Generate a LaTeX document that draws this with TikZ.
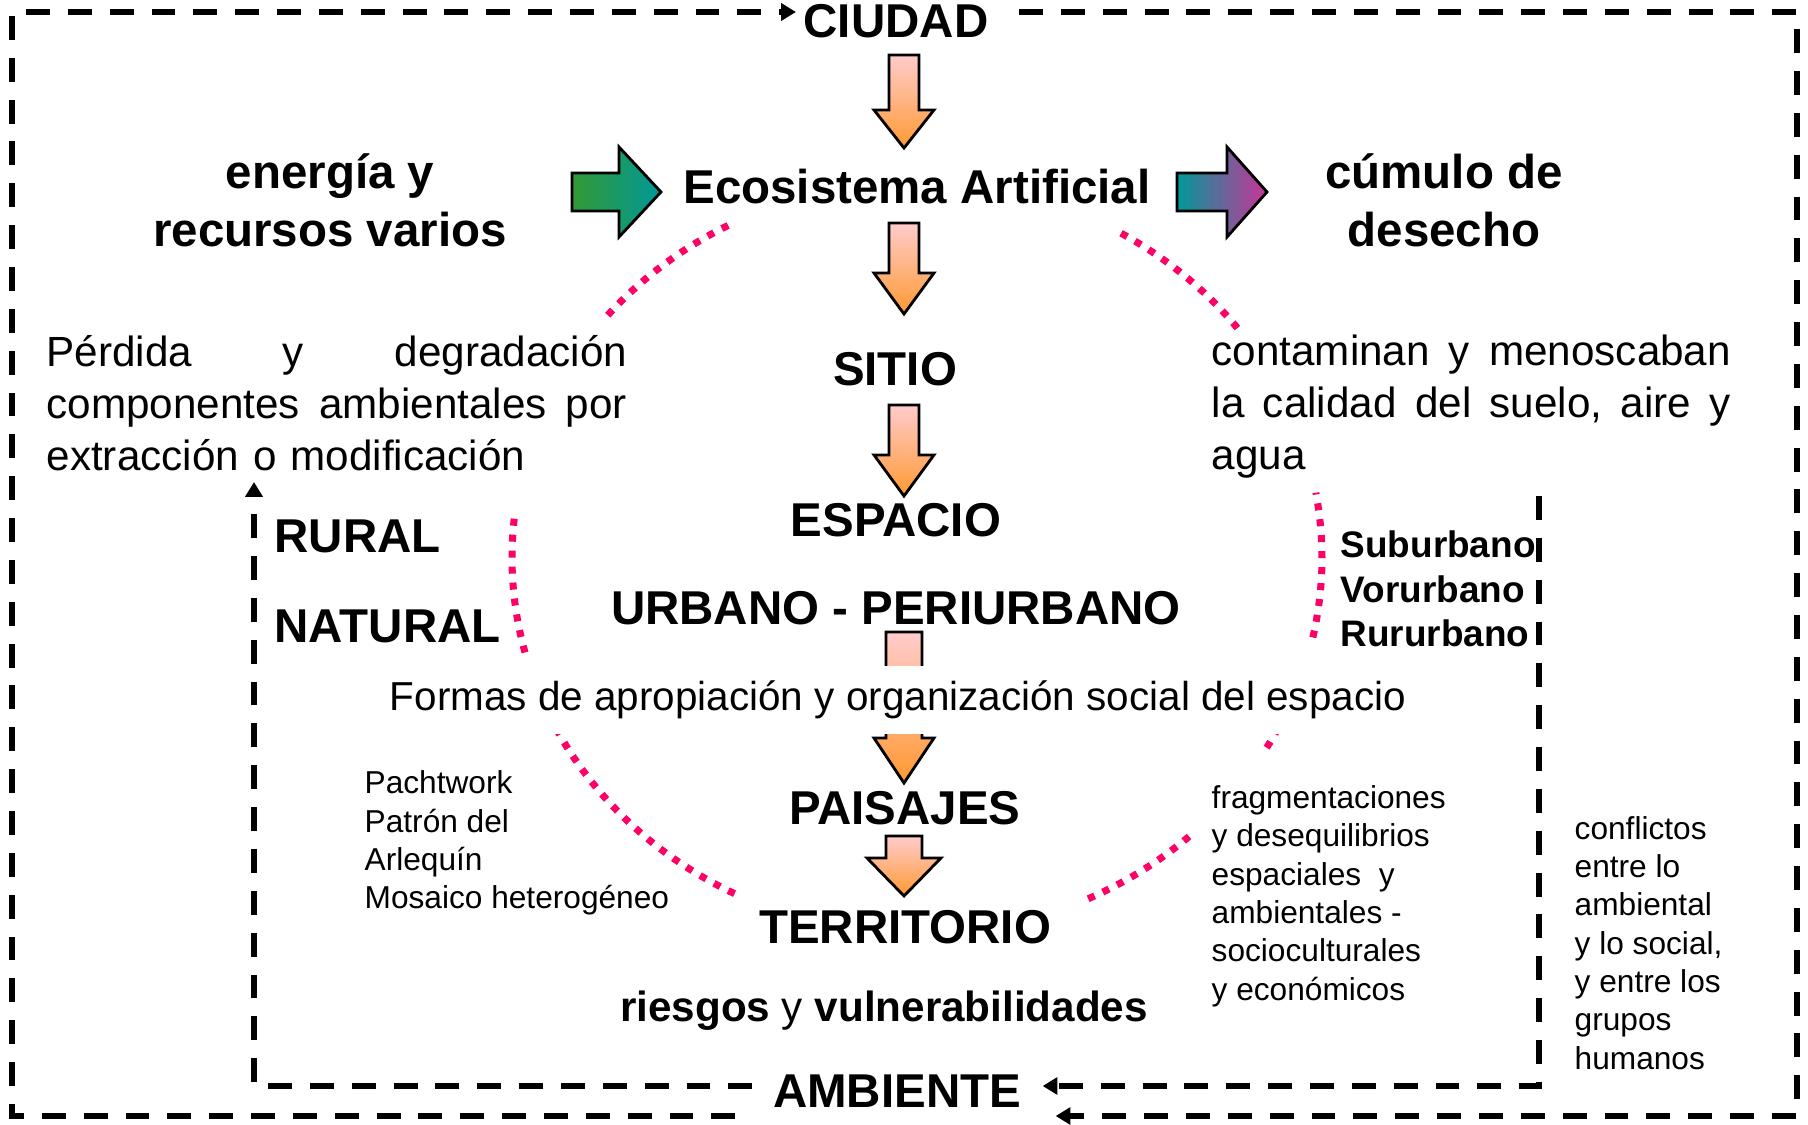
\documentclass[tikz,border=0pt]{standalone}
\usepackage{fontspec}
\setmainfont{Liberation Sans}
\usetikzlibrary{arrows.meta,calc}
\definecolor{rosa}{HTML}{FFCCCC}
\definecolor{naranja}{HTML}{FF9933}
\definecolor{verde}{HTML}{339933}
\definecolor{turquesa}{HTML}{009999}
\definecolor{morado}{HTML}{CC3399}
\definecolor{fucsia}{HTML}{FF0066}

\newcommand{\flechabajo}[6]{%
  \shadedraw[top color=rosa,bottom color=naranja,line width=.8pt]
  ({#1-#5},{-#2}) -- ({#1+#5},{-#2}) -- ({#1+#5},{-#3}) -- ({#1+#6},{-#3})
  -- (#1,{-#4}) -- ({#1-#6},{-#3}) -- ({#1-#5},{-#3}) -- cycle;}

\begin{document}
\begin{tikzpicture}[x=0.01cm,y=0.01cm,
  titulo/.style={font=\fontsize{13.5}{16.4}\selectfont\bfseries,align=center,inner sep=2pt},
  texto/.style={font=\fontsize{12}{14.8}\selectfont,inner sep=0pt,anchor=west,align=left},
  chico/.style={font=\fontsize{9}{10.9}\selectfont,inner sep=0pt,anchor=west,align=left},
  linea/.style={line width=1.7pt,dash pattern=on 6.8pt off 5.1pt},
  punto/.style={fucsia,line width=2pt,dash pattern=on 2pt off 2.55pt},
  punta/.style={-{Triangle[length=4.2pt,width=4.8pt]}}]
\useasboundingbox (0,0) rectangle (1808,-1125);

\foreach \a/\b in {117.8/141,174/195.6,207/243.7,295/312.6,329.7/335.4,347.8/370,37.7/60}
  \draw[punto] plot[domain=\a:\b,samples=25] ({917+405*cos(\x)},{-558+376*sin(\x)});

\flechabajo{904}{55}{110}{148}{15}{30}
\flechabajo{904}{223}{273}{314}{15}{30}
\flechabajo{904}{405}{455}{496}{15}{30}
\flechabajo{904}{632}{738}{783}{18}{30}
\flechabajo{904}{836}{858}{896}{18}{37}

\shadedraw[left color=verde,right color=turquesa,line width=.8pt] (572,-173) -- (619,-173) -- (619,-147)
  -- (661,-192) -- (619,-237) -- (619,-211) -- (572,-211) -- cycle;
\shadedraw[left color=turquesa,right color=morado,line width=.8pt] (1177,-173) -- (1227,-173) -- (1227,-147)
  -- (1267,-192) -- (1227,-237) -- (1227,-211) -- (1177,-211) -- cycle;

\node[titulo] (ciudad) at (896,-21) {CIUDAD};
\node[titulo] (eco) at (917,-187) {Ecosistema Artificial};
\node[titulo] (energia) at (330,-200) {energía y\\recursos varios};
\node[titulo] (cumulo) at (1444,-200) {cúmulo de\\desecho};
\node[titulo] (sitio) at (895,-369) {SITIO};
\node[titulo] (espacio) at (896,-520) {ESPACIO};
\node[titulo] (urbano) at (896,-608) {URBANO - PERIURBANO};
\node[font=\fontsize{11.5}{14}\selectfont,fill=white,inner sep=0pt,minimum height=0.68cm] (formas)
  at (898,-700) {Formas de apropiación y organización social del espacio};
\node[titulo] (paisajes) at (905,-808) {PAISAJES};
\node[titulo] (territorio) at (905,-927) {TERRITORIO};
\node[font=\fontsize{12}{14}\selectfont] (riesgos) at (884,-1011) {\textbf{riesgos} y \textbf{vulnerabilidades}};
\node[titulo] (ambiente) at (897,-1091) {AMBIENTE};
\node[titulo,anchor=west,inner sep=0pt] (rural) at (274,-536) {RURAL};
\node[titulo,anchor=west,inner sep=0pt] (natural) at (274,-626) {NATURAL};

\node[texto,text width=5.8cm] (perdida) at (46,-403)
  {Pérdida\hfill y\hfill degradación\\ componentes\hfill ambientales\hfill por\\ extracción o modificación};
\node[texto,text width=5.19cm] (contaminan) at (1211,-407)
  {contaminan\hfill y\hfill menoscaban\\ la\hfill calidad\hfill del\hfill suelo,\hfill aire\hfill y\\ agua};
\node[titulo,anchor=west,inner sep=0pt,align=left,font=\fontsize{10.5}{12.6}\selectfont\bfseries] (suburbano)
  at (1340,-589) {Suburbano\\Vorurbano\\Rururbano};
\node[chico] (pachtwork) at (364,-843) {Pachtwork\\Patrón del\\Arlequín\\Mosaico heterogéneo};
\node[chico] (fragmentaciones) at (1211,-896)
  {fragmentaciones\\y desequilibrios\\espaciales\ \ y\\ambientales -\\socioculturales\\y económicos};
\node[chico] (conflictos) at (1574,-943)
  {conflictos\\entre lo\\ambiental\\y lo social,\\y entre los\\grupos\\humanos};

\coordinate (oa) at (12,-12);
\coordinate (ob) at (1797,-12);
\coordinate (oc) at (1797,-1116);
\coordinate (od) at (12,-1116);
\coordinate (ia) at (254,-482);
\coordinate (ib) at (254,-1086);
\coordinate (ic) at (1539,-1086);
\coordinate (id) at (1539,-496);

\draw[linea,punta] ($(ambiente.west |- od)+(-30,0)$) -- (od) -- (oa) -- (ciudad.west |- oa);
\draw[linea,punta] ($(ciudad.east |- ob)+(23,0)$) -- (ob) -- (oc) -- ($(ambiente.east |- oc)+(27,0)$);
\draw[linea,punta] ($(ambiente.west |- ib)+(-13,0)$) -- (ib) -- (ia);
\draw[linea,punta] (id) -- (ic) -- ($(ambiente.east |- ic)+(14,0)$);
\end{tikzpicture}
\end{document}
